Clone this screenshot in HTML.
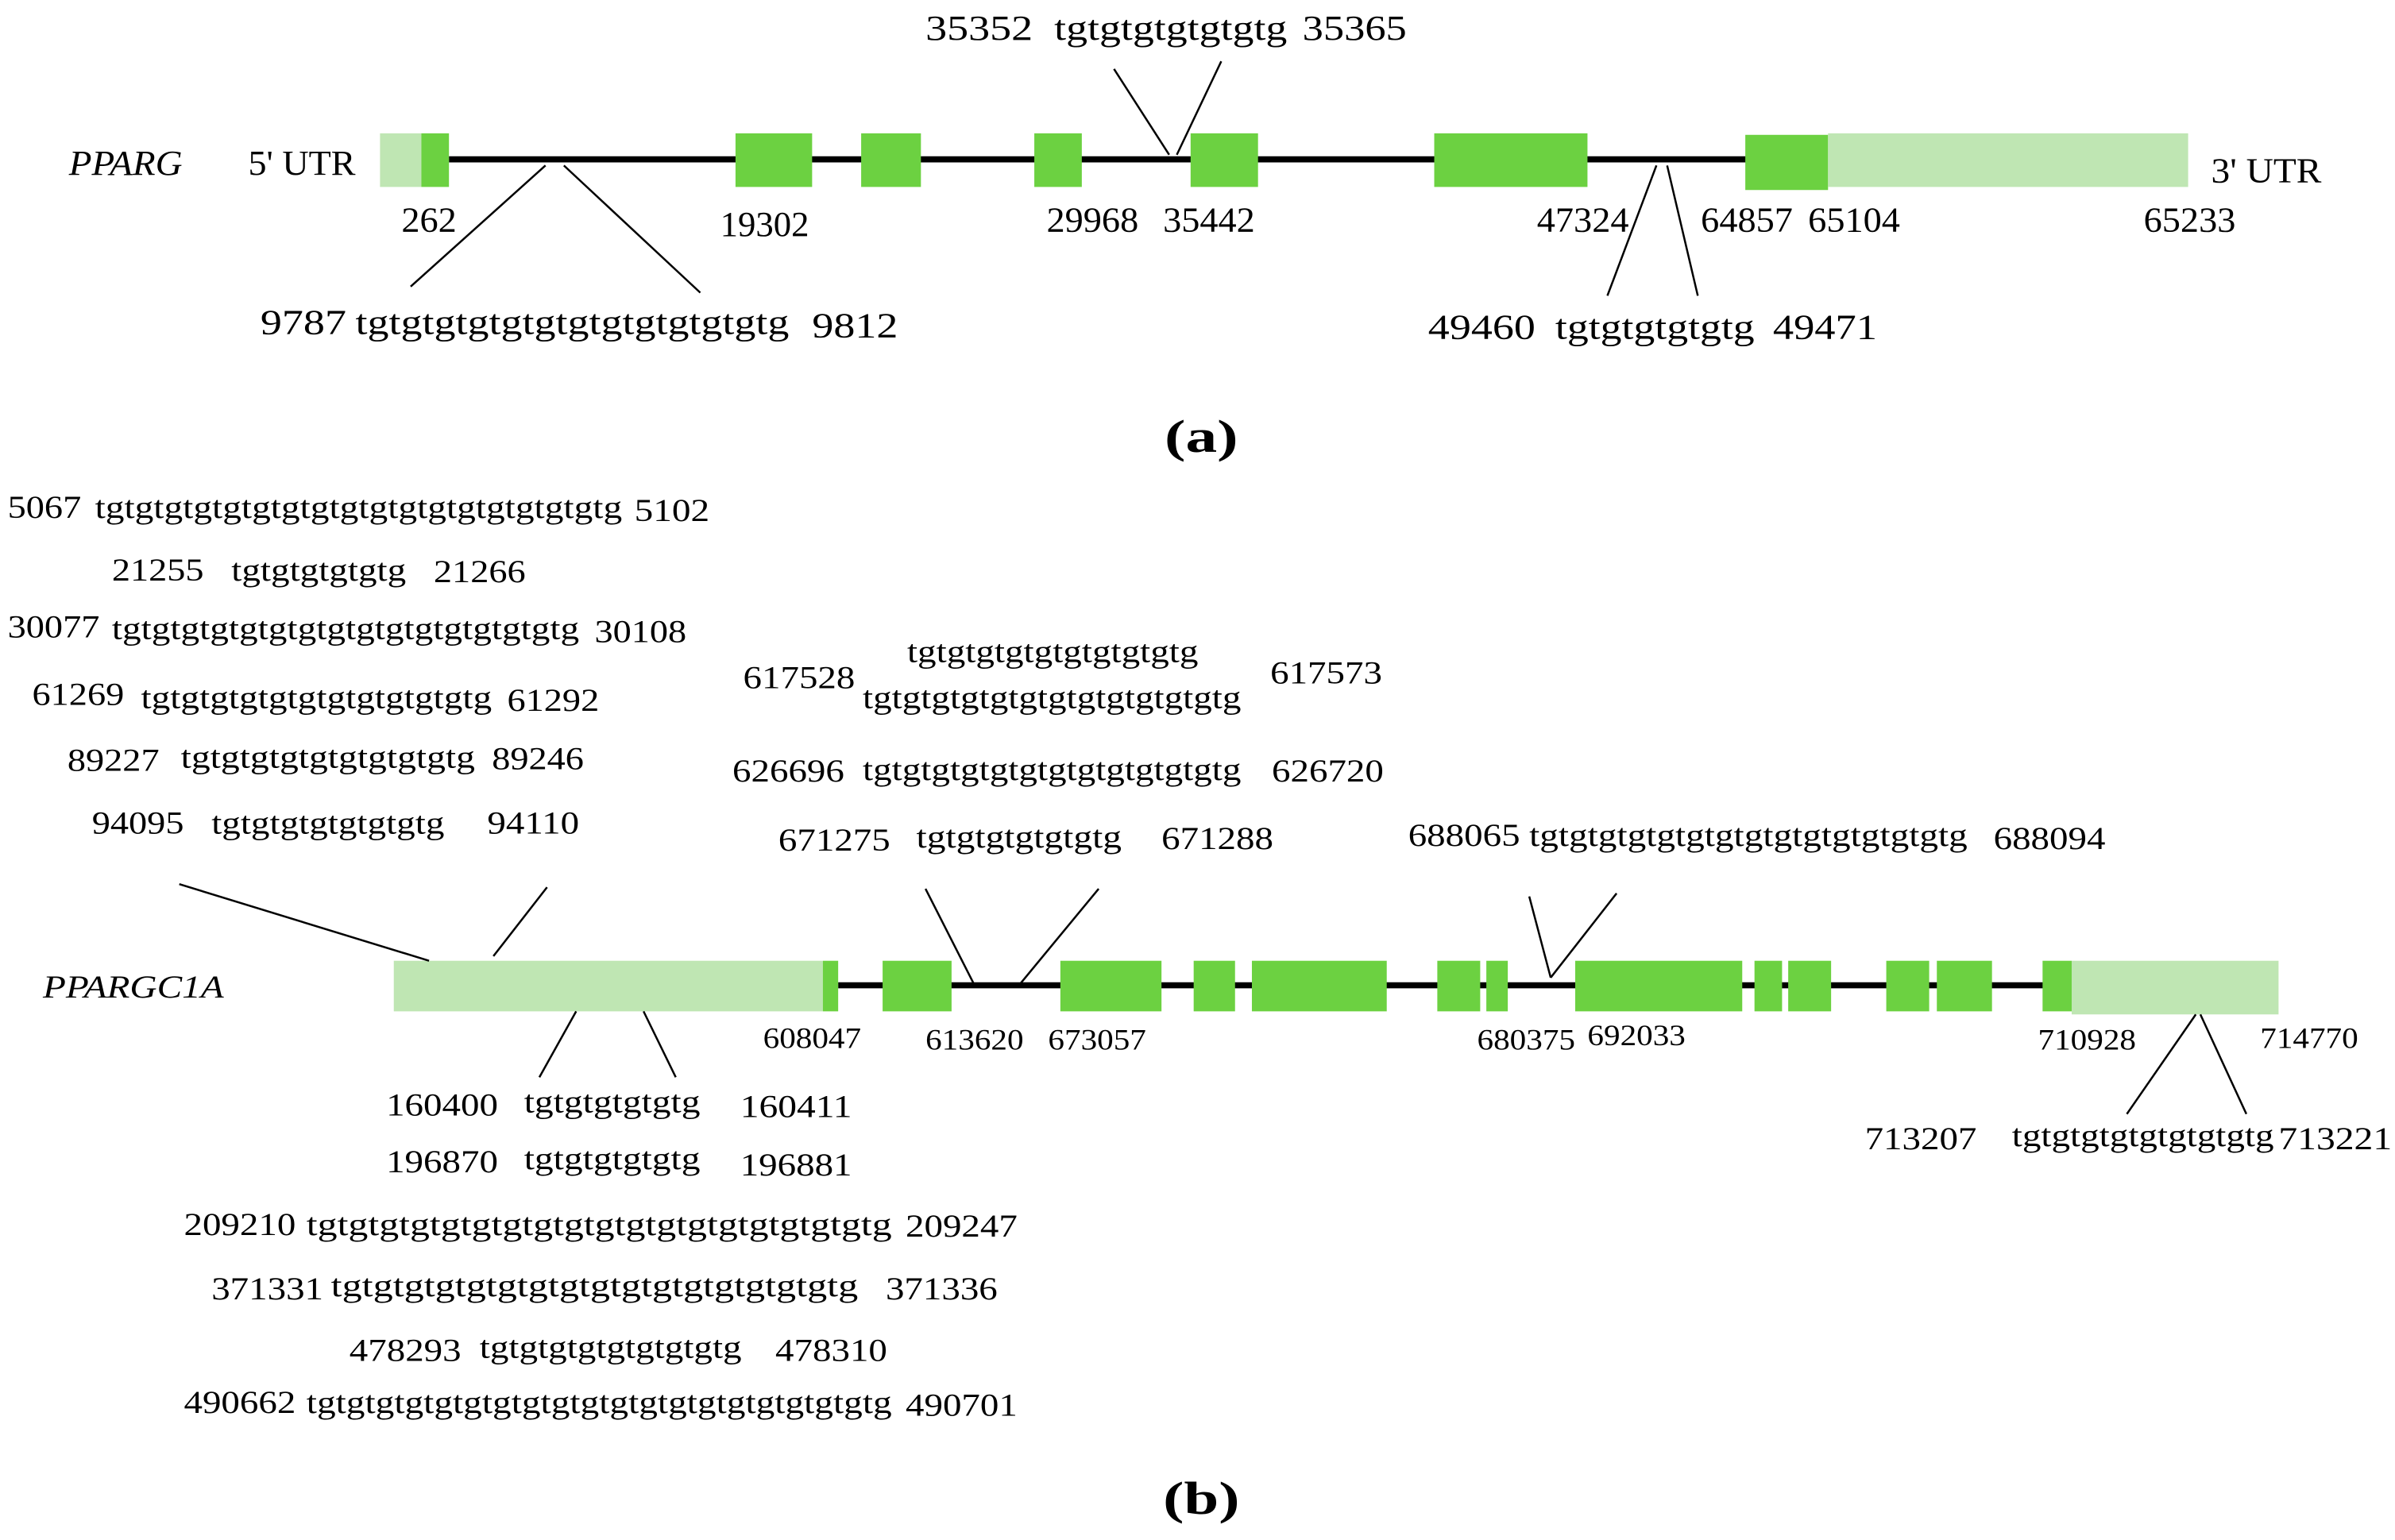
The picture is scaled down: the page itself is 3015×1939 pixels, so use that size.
<!DOCTYPE html>
<html><head><meta charset="utf-8"><style>
html,body{margin:0;padding:0;background:#fff;}
svg{display:block;}
text{font-family:"Liberation Serif",serif;fill:#000;}
</style></head><body>
<svg width="3015" height="1939" viewBox="0 0 1563 1005" preserveAspectRatio="none" xmlns="http://www.w3.org/2000/svg">
<g lengthAdjust="spacingAndGlyphs">
<!-- Part a -->
<text x="45" y="114" font-size="23" font-style="italic" textLength="74" lengthAdjust="spacingAndGlyphs">PPARG</text>
<text x="162" y="114" font-size="23" textLength="70" lengthAdjust="spacingAndGlyphs">5' UTR</text>
<line x1="293" y1="104" x2="1140" y2="104" stroke="#000" stroke-width="4"/>
<rect x="248" y="87" width="27" height="35" fill="#bfe6b3"/>
<rect x="275" y="87" width="18" height="35" fill="#6cd141"/>
<rect x="480" y="87" width="50" height="35" fill="#6cd141"/>
<rect x="562" y="87" width="39" height="35" fill="#6cd141"/>
<rect x="675" y="87" width="31" height="35" fill="#6cd141"/>
<rect x="777" y="87" width="44" height="35" fill="#6cd141"/>
<rect x="936" y="87" width="100" height="35" fill="#6cd141"/>
<rect x="1139" y="88" width="54" height="36" fill="#6cd141"/>
<rect x="1193" y="87" width="235" height="35" fill="#bfe6b3"/>
<text x="1443" y="119" font-size="23" textLength="72" lengthAdjust="spacingAndGlyphs">3' UTR</text>
<g font-size="23">
<text x="262" y="151" textLength="36" lengthAdjust="spacingAndGlyphs">262</text>
<text x="470" y="154" textLength="58" lengthAdjust="spacingAndGlyphs">19302</text>
<text x="683" y="151" textLength="60" lengthAdjust="spacingAndGlyphs">29968</text>
<text x="759" y="151" textLength="60" lengthAdjust="spacingAndGlyphs">35442</text>
<text x="1003" y="151" textLength="60" lengthAdjust="spacingAndGlyphs">47324</text>
<text x="1110" y="151" textLength="60" lengthAdjust="spacingAndGlyphs">64857</text>
<text x="1180" y="151" textLength="60" lengthAdjust="spacingAndGlyphs">65104</text>
<text x="1399" y="151" textLength="60" lengthAdjust="spacingAndGlyphs">65233</text>
<text x="604" y="26" textLength="70" lengthAdjust="spacingAndGlyphs">35352</text>
<text x="688" y="26" textLength="152" lengthAdjust="spacingAndGlyphs">tgtgtgtgtgtgtg</text>
<text x="850" y="26" textLength="68" lengthAdjust="spacingAndGlyphs">35365</text>
<text x="170" y="218" textLength="56" lengthAdjust="spacingAndGlyphs">9787</text>
<text x="232" y="218" textLength="283" lengthAdjust="spacingAndGlyphs">tgtgtgtgtgtgtgtgtgtgtgtgtg</text>
<text x="530" y="220" textLength="56" lengthAdjust="spacingAndGlyphs">9812</text>
<text x="932" y="221" textLength="70" lengthAdjust="spacingAndGlyphs">49460</text>
<text x="1015" y="221" textLength="130" lengthAdjust="spacingAndGlyphs">tgtgtgtgtgtg</text>
<text x="1157" y="221" textLength="68" lengthAdjust="spacingAndGlyphs">49471</text>
</g>
<g stroke="#000" stroke-width="1.3">
<line x1="727" y1="45" x2="763" y2="101"/>
<line x1="797" y1="40" x2="768" y2="101"/>
<line x1="356" y1="108" x2="268" y2="187"/>
<line x1="368" y1="108" x2="457" y2="191"/>
<line x1="1081" y1="108" x2="1049" y2="193"/>
<line x1="1088" y1="108" x2="1108" y2="193"/>
</g>
<text x="760" y="295" font-size="30" font-weight="bold" textLength="48" lengthAdjust="spacingAndGlyphs">(a)</text>

<!-- Part b -->
<g font-size="21">
<text x="5" y="338" textLength="48" lengthAdjust="spacingAndGlyphs">5067</text>
<text x="62" y="338" textLength="344" lengthAdjust="spacingAndGlyphs">tgtgtgtgtgtgtgtgtgtgtgtgtgtgtgtgtgtg</text>
<text x="414" y="340" textLength="49" lengthAdjust="spacingAndGlyphs">5102</text>
<text x="73" y="379" textLength="60" lengthAdjust="spacingAndGlyphs">21255</text>
<text x="151" y="379" textLength="114" lengthAdjust="spacingAndGlyphs">tgtgtgtgtgtg</text>
<text x="283" y="380" textLength="60" lengthAdjust="spacingAndGlyphs">21266</text>
<text x="5" y="416" textLength="60" lengthAdjust="spacingAndGlyphs">30077</text>
<text x="73" y="417" textLength="305" lengthAdjust="spacingAndGlyphs">tgtgtgtgtgtgtgtgtgtgtgtgtgtgtgtg</text>
<text x="388" y="419" textLength="60" lengthAdjust="spacingAndGlyphs">30108</text>
<text x="21" y="460" textLength="60" lengthAdjust="spacingAndGlyphs">61269</text>
<text x="92" y="462" textLength="229" lengthAdjust="spacingAndGlyphs">tgtgtgtgtgtgtgtgtgtgtgtg</text>
<text x="331" y="464" textLength="60" lengthAdjust="spacingAndGlyphs">61292</text>
<text x="44" y="503" textLength="60" lengthAdjust="spacingAndGlyphs">89227</text>
<text x="118" y="501" textLength="192" lengthAdjust="spacingAndGlyphs">tgtgtgtgtgtgtgtgtgtg</text>
<text x="321" y="502" textLength="60" lengthAdjust="spacingAndGlyphs">89246</text>
<text x="60" y="544" textLength="60" lengthAdjust="spacingAndGlyphs">94095</text>
<text x="138" y="544" textLength="152" lengthAdjust="spacingAndGlyphs">tgtgtgtgtgtgtgtg</text>
<text x="318" y="544" textLength="60" lengthAdjust="spacingAndGlyphs">94110</text>

<text x="485" y="449" textLength="73" lengthAdjust="spacingAndGlyphs">617528</text>
<text x="592" y="432" textLength="190" lengthAdjust="spacingAndGlyphs">tgtgtgtgtgtgtgtgtgtg</text>
<text x="563" y="462" textLength="247" lengthAdjust="spacingAndGlyphs">tgtgtgtgtgtgtgtgtgtgtgtgtg</text>
<text x="829" y="446" textLength="73" lengthAdjust="spacingAndGlyphs">617573</text>
<text x="478" y="510" textLength="73" lengthAdjust="spacingAndGlyphs">626696</text>
<text x="563" y="509" textLength="247" lengthAdjust="spacingAndGlyphs">tgtgtgtgtgtgtgtgtgtgtgtgtg</text>
<text x="830" y="510" textLength="73" lengthAdjust="spacingAndGlyphs">626720</text>
<text x="508" y="555" textLength="73" lengthAdjust="spacingAndGlyphs">671275</text>
<text x="598" y="553" textLength="134" lengthAdjust="spacingAndGlyphs">tgtgtgtgtgtgtg</text>
<text x="758" y="554" textLength="73" lengthAdjust="spacingAndGlyphs">671288</text>
<text x="919" y="552" textLength="73" lengthAdjust="spacingAndGlyphs">688065</text>
<text x="998" y="552" textLength="286" lengthAdjust="spacingAndGlyphs">tgtgtgtgtgtgtgtgtgtgtgtgtgtgtg</text>
<text x="1301" y="554" textLength="73" lengthAdjust="spacingAndGlyphs">688094</text>
</g>

<text x="28" y="651" font-size="21" font-style="italic" textLength="118" lengthAdjust="spacingAndGlyphs">PPARGC1A</text>
<line x1="547" y1="643" x2="1335" y2="643" stroke="#000" stroke-width="4"/>
<rect x="257" y="627" width="280" height="33" fill="#bfe6b3"/>
<rect x="537" y="627" width="10" height="33" fill="#6cd141"/>
<g fill="#6cd141">
<rect x="576" y="627" width="45" height="33"/>
<rect x="692" y="627" width="66" height="33"/>
<rect x="779" y="627" width="27" height="33"/>
<rect x="817" y="627" width="88" height="33"/>
<rect x="938" y="627" width="28" height="33"/>
<rect x="970" y="627" width="14" height="33"/>
<rect x="1028" y="627" width="109" height="33"/>
<rect x="1145" y="627" width="18" height="33"/>
<rect x="1167" y="627" width="28" height="33"/>
<rect x="1231" y="627" width="28" height="33"/>
<rect x="1264" y="627" width="36" height="33"/>
<rect x="1333" y="627" width="19" height="33"/>
</g>
<rect x="1352" y="627" width="135" height="35" fill="#bfe6b3"/>

<g stroke="#000" stroke-width="1.3">
<line x1="117" y1="577" x2="280" y2="627"/>
<line x1="357" y1="579" x2="322" y2="624"/>
<line x1="604" y1="580" x2="636" y2="643"/>
<line x1="717" y1="580" x2="665" y2="643"/>
<line x1="998" y1="585" x2="1012" y2="638"/>
<line x1="1055" y1="583" x2="1012" y2="638"/>
<line x1="376" y1="660" x2="352" y2="703"/>
<line x1="420" y1="660" x2="441" y2="703"/>
<line x1="1433" y1="662" x2="1388" y2="727"/>
<line x1="1436" y1="662" x2="1466" y2="727"/>
</g>

<g font-size="19">
<text x="498" y="684" textLength="64" lengthAdjust="spacingAndGlyphs">608047</text>
<text x="604" y="685" textLength="64" lengthAdjust="spacingAndGlyphs">613620</text>
<text x="684" y="685" textLength="64" lengthAdjust="spacingAndGlyphs">673057</text>
<text x="964" y="685" textLength="64" lengthAdjust="spacingAndGlyphs">680375</text>
<text x="1036" y="682" textLength="64" lengthAdjust="spacingAndGlyphs">692033</text>
<text x="1330" y="685" textLength="64" lengthAdjust="spacingAndGlyphs">710928</text>
<text x="1475" y="684" textLength="64" lengthAdjust="spacingAndGlyphs">714770</text>
</g>
<g font-size="21">
<text x="252" y="728" textLength="73" lengthAdjust="spacingAndGlyphs">160400</text>
<text x="342" y="726" textLength="115" lengthAdjust="spacingAndGlyphs">tgtgtgtgtgtg</text>
<text x="483" y="729" textLength="73" lengthAdjust="spacingAndGlyphs">160411</text>
<text x="252" y="765" textLength="73" lengthAdjust="spacingAndGlyphs">196870</text>
<text x="342" y="763" textLength="115" lengthAdjust="spacingAndGlyphs">tgtgtgtgtgtg</text>
<text x="483" y="767" textLength="73" lengthAdjust="spacingAndGlyphs">196881</text>
<text x="120" y="806" textLength="73" lengthAdjust="spacingAndGlyphs">209210</text>
<text x="200" y="806" textLength="382" lengthAdjust="spacingAndGlyphs">tgtgtgtgtgtgtgtgtgtgtgtgtgtgtgtgtgtgtg</text>
<text x="591" y="807" textLength="73" lengthAdjust="spacingAndGlyphs">209247</text>
<text x="138" y="848" textLength="73" lengthAdjust="spacingAndGlyphs">371331</text>
<text x="216" y="846" textLength="344" lengthAdjust="spacingAndGlyphs">tgtgtgtgtgtgtgtgtgtgtgtgtgtgtgtgtg</text>
<text x="578" y="848" textLength="73" lengthAdjust="spacingAndGlyphs">371336</text>
<text x="228" y="888" textLength="73" lengthAdjust="spacingAndGlyphs">478293</text>
<text x="313" y="886" textLength="171" lengthAdjust="spacingAndGlyphs">tgtgtgtgtgtgtgtgtg</text>
<text x="506" y="888" textLength="73" lengthAdjust="spacingAndGlyphs">478310</text>
<text x="120" y="922" textLength="73" lengthAdjust="spacingAndGlyphs">490662</text>
<text x="200" y="922" textLength="382" lengthAdjust="spacingAndGlyphs">tgtgtgtgtgtgtgtgtgtgtgtgtgtgtgtgtgtgtgtg</text>
<text x="591" y="924" textLength="73" lengthAdjust="spacingAndGlyphs">490701</text>
<text x="1217" y="750" textLength="73" lengthAdjust="spacingAndGlyphs">713207</text>
<text x="1313" y="748" textLength="171" lengthAdjust="spacingAndGlyphs">tgtgtgtgtgtgtgtgtg</text>
<text x="1487" y="750" textLength="74" lengthAdjust="spacingAndGlyphs">713221</text>
</g>
<text x="759" y="988" font-size="30" font-weight="bold" textLength="50" lengthAdjust="spacingAndGlyphs">(b)</text>
</g>
</svg>
</body></html>
